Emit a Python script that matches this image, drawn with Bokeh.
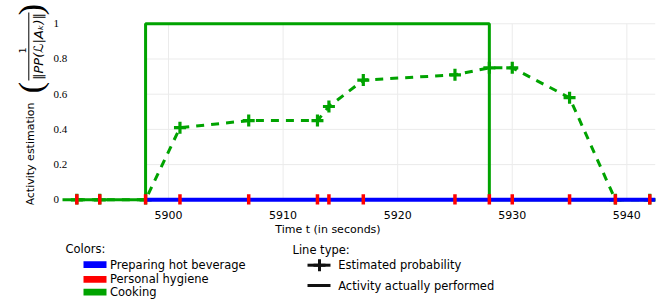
import math
from bokeh.plotting import figure
from bokeh.models import Range1d, Label, LabelSet, Arrow, FixedTicker, ColumnDataSource
from bokeh.layouts import column
from bokeh.core.properties import value
from bokeh.embed import file_html
from bokeh.resources import INLINE

# ---------------- data ----------------
obs_times = [5892, 5894, 5898, 5901, 5907, 5913, 5914, 5917, 5925, 5928, 5930, 5935, 5939, 5942]
cooking_est = [0, 0, 0, 0.41, 0.45, 0.45, 0.53, 0.68, 0.71, 0.75, 0.75, 0.58, 0, 0]
hygiene_est = [0, 0, 0, 0, 0, 0, 0, 0, 0, 0, 0, 0, 0, 0]

cooking_actual_t = [5890.75, 5898, 5898, 5928, 5928, 5942.5]
cooking_actual_v = [0, 0, 1, 1, 0, 0]
beverage_actual_t = [5898, 5942.5]
beverage_actual_v = [0, 0]

x_ticks = [5900, 5910, 5920, 5930, 5940]
y_ticks = [0, 0.2, 0.4, 0.6, 0.8, 1]
y_tick_labels = ["0", "0.2", "0.4", "0.6", "0.8", "1"]
grid_x_start = 5898
grid_x_end = 5942.5

legend_colors = ["Preparing hot beverage", "Personal hygiene", "Cooking"]
legend_lines = ["Estimated probability", "Activity actually performed"]

BLUE = "#0000ff"
RED = "#ff0000"
GREEN = "#00a300"
GRID = "#ebebeb"
FONT = "DejaVu Sans"

# ---------------- main chart ----------------
p = figure(width=664, height=238, output_backend="svg", toolbar_location=None,
           x_range=Range1d(5885.339, 5942.5), y_range=Range1d(-0.0267, 1.121),
           y_axis_type=None,
           min_border_left=0, min_border_right=9, min_border_top=2, min_border_bottom=34)
p.outline_line_color = None
p.grid.visible = False

ax = p.xaxis[0]
ax.axis_line_color = None
ax.major_tick_line_color = None
ax.minor_tick_line_color = None
ax.major_tick_out = 0
ax.major_tick_in = 0
ax.minor_tick_out = 0
ax.ticker = FixedTicker(ticks=x_ticks)
ax.major_label_text_font = FONT
ax.major_label_text_font_size = "11px"
ax.major_label_text_color = "black"
ax.major_label_standoff = 6
ax.axis_label = "Time t (in seconds)"
ax.axis_label_text_font = FONT
ax.axis_label_text_font_size = "11px"
ax.axis_label_text_font_style = "normal"
ax.axis_label_text_color = "black"
ax.axis_label_standoff = 1

# light grid over the plotted time span
p.segment(x0=[grid_x_start] * len(y_ticks), y0=y_ticks,
          x1=[grid_x_end] * len(y_ticks), y1=y_ticks, line_color=GRID, line_width=1)
p.segment(x0=x_ticks, y0=[0] * len(x_ticks), x1=x_ticks, y1=[1] * len(x_ticks),
          line_color=GRID, line_width=1)

# y tick labels (left aligned, through the y scale)
p.add_layout(LabelSet(x=53, y="y", text="t", x_units="screen", y_units="data",
                      source=ColumnDataSource(dict(y=y_ticks, t=y_tick_labels)),
                      text_align="left", text_baseline="middle", text_font=FONT,
                      text_font_size="11px", text_color="black"))

# estimated probability of cooking
p.line(obs_times, cooking_est, color=GREEN, line_width=3, line_dash="8 7")
p.scatter(obs_times, cooking_est, marker="cross", size=12, line_width=3.2, color=GREEN)
# activity actually performed
p.line(cooking_actual_t, cooking_actual_v, color=GREEN, line_width=3)
p.line(beverage_actual_t, beverage_actual_v, color=BLUE, line_width=4)
# estimated probability of personal hygiene
p.scatter(obs_times, hygiene_est, marker="dash", angle=math.pi / 2, size=11,
          line_width=3.5, color=RED)

# rotated y-axis title, built from text pieces
def lab(x, y, text, size, font=FONT, style="normal"):
    p.add_layout(Label(x=x, y=y, x_units="screen", y_units="screen", text=text,
                       angle=90, angle_units="deg", text_align="center",
                       text_baseline="middle", text_font=font, text_font_size=size,
                       text_font_style=style, text_color="black"))

lab(29.5, 50.5, "Activity estimation", "11px")
lab(30, 117, "(", "34px", font="Liberation Serif")
lab(30, 195, ")", "34px", font="Liberation Serif")
lab(21.5, 154, "1", "9px")
lab(37.5, 158, "‖PP(ℒ|Aₖ)‖", "13px", style="italic")
p.add_layout(Arrow(end=None, x_start=28.3, y_start=124, x_end=28.3, y_end=192,
                   start_units="screen", end_units="screen",
                   line_width=1, line_color="black"))

# ---------------- legend (below) ----------------
lg = figure(width=664, height=61, output_backend="svg", toolbar_location=None,
            x_range=Range1d(0, 655), y_range=Range1d(299, 238),
            min_border_left=0, min_border_right=9, min_border_top=0, min_border_bottom=0,
            x_axis_type=None, y_axis_type=None)
lg.outline_line_color = None
lg.grid.visible = False

row_y = [264.2, 278.8, 291.6]
lg.quad(left=[83] * 3, right=[106] * 3, top=[y - 3.4 for y in row_y],
        bottom=[y + 3.4 for y in row_y], fill_color=[BLUE, RED, GREEN], line_color=None)
lg.text(x=[109.5] * 3, y=row_y, text=legend_colors, text_font=value(FONT),
        text_font_size="11.5px", text_baseline="middle", text_align="left", text_color="black")
lg.text(x=[65, 292], y=[248, 249], text=["Colors:", "Line type:"], text_font=value(FONT),
        text_font_size="11.5px", text_baseline="middle", text_align="left", text_color="black")

ltype_y = [264.7, 285]
lg.segment(x0=[307, 307], y0=ltype_y, x1=[330, 330], y1=ltype_y, line_width=3, line_color="#111111")
lg.scatter([319], [ltype_y[0]], marker="cross", size=12, line_width=3, color="#111111")
lg.text(x=[337.7] * 2, y=ltype_y, text=legend_lines, text_font=value(FONT),
        text_font_size="11.5px", text_baseline="middle", text_align="left", text_color="black")

layout = column(p, lg, spacing=0)
open("out.html", "w").write(file_html(layout, INLINE))
